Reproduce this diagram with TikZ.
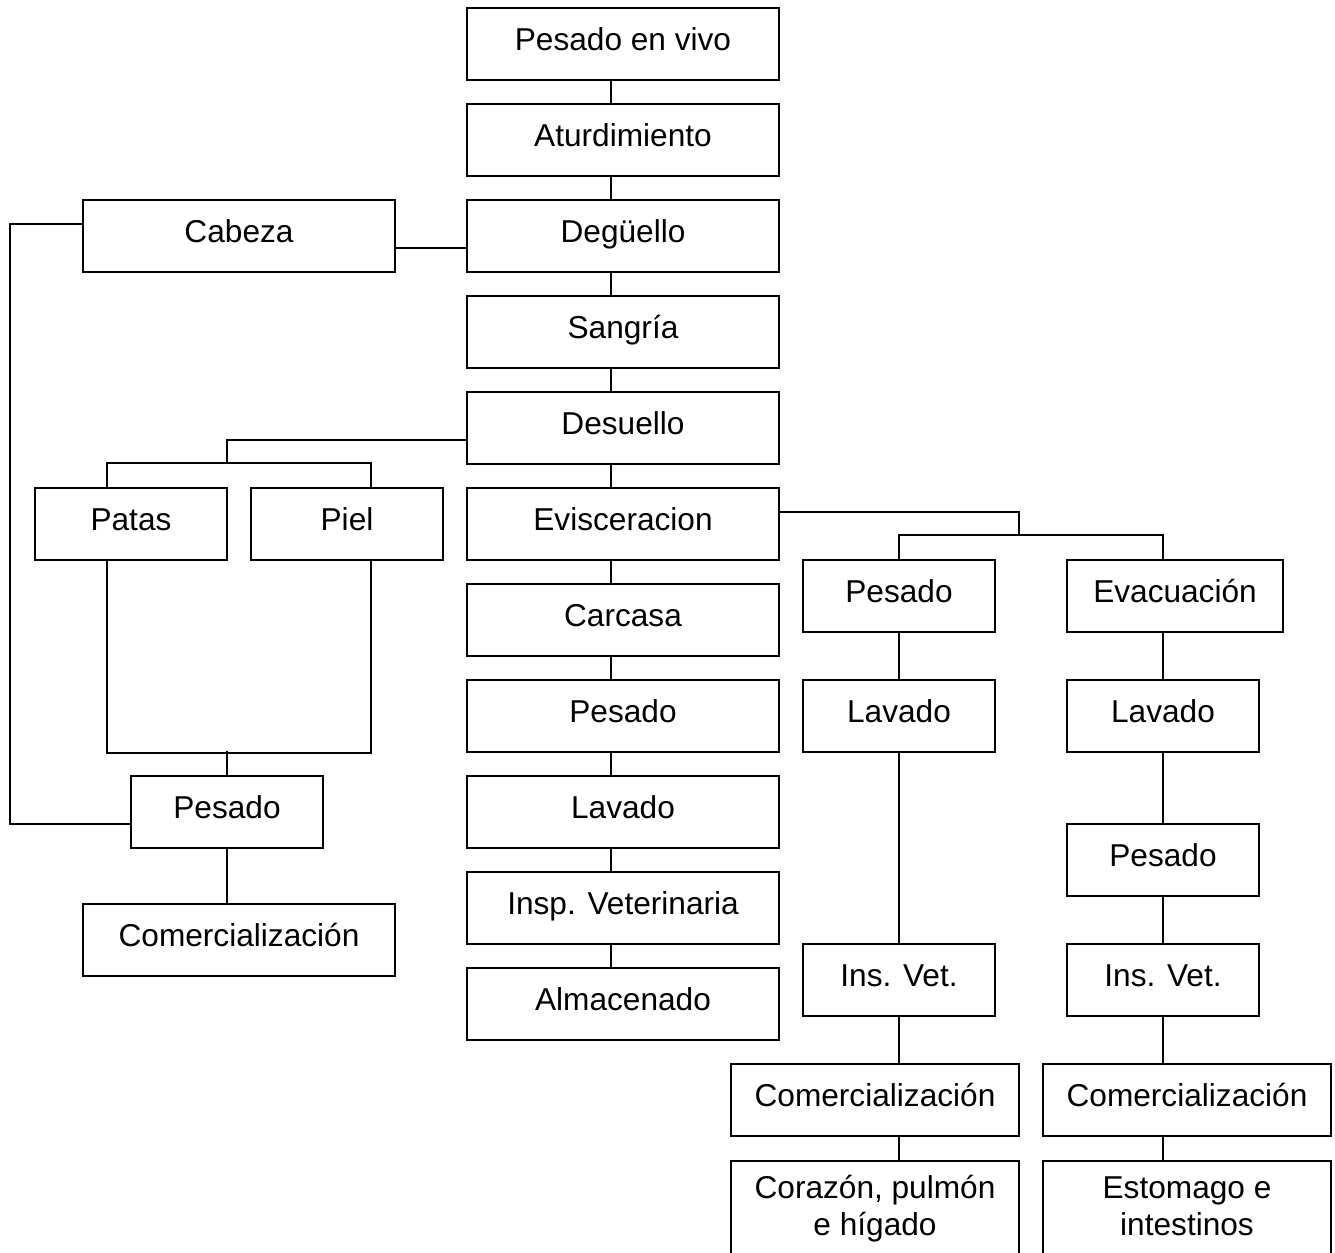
\documentclass[tikz,border=0pt]{standalone}
\usepackage{fontspec}
\setmainfont{Liberation Sans}

\begin{document}
\begin{tikzpicture}[x=0.02cm, y=-0.02cm,
    box/.style={draw, line width=1.1pt, inner sep=0pt, minimum height=1.44cm,
      text height=0.72em, text depth=0.03em, font=\fontsize{18}{21}\selectfont},
    wide/.style={box, minimum width=6.24cm},
    narrow/.style={box, minimum width=3.84cm},
    medium/.style={box, minimum width=5.76cm},
    twoline/.style={draw, line width=1.1pt, inner sep=0pt, minimum width=5.76cm,
      minimum height=2cm, align=center, anchor=north, text height=2.92em,
      text depth=0.1em, font=\fontsize{18}{21}\selectfont},
    link/.style={line width=1.1pt}]
  \useasboundingbox (0,0) rectangle (1335,1253);

  % main line
  \node[wide] (pesadovivo) at (623,44) {Pesado en vivo};
  \node[wide] (aturdimiento) at (623,140) {Aturdimiento};
  \node[wide] (deguello) at (623,236) {Degüello};
  \node[wide] (sangria) at (623,332) {Sangría};
  \node[wide] (desuello) at (623,428) {Desuello};
  \node[wide] (evisceracion) at (623,524) {Evisceracion};
  \node[wide] (carcasa) at (623,620) {Carcasa};
  \node[wide] (pesadocarcasa) at (623,716) {Pesado};
  \node[wide] (lavadocarcasa) at (623,812) {Lavado};
  \node[wide] (inspeccion) at (623,908) {Insp. Veterinaria};
  \node[wide] (almacenado) at (623,1004) {Almacenado};
  \coordinate (spine) at (611,0);

  \draw[link] (pesadovivo.south -| spine) -- (aturdimiento.north -| spine);
  \draw[link] (aturdimiento.south -| spine) -- (deguello.north -| spine);
  \draw[link] (deguello.south -| spine) -- (sangria.north -| spine);
  \draw[link] (sangria.south -| spine) -- (desuello.north -| spine);
  \draw[link] (desuello.south -| spine) -- (evisceracion.north -| spine);
  \draw[link] (evisceracion.south -| spine) -- (carcasa.north -| spine);
  \draw[link] (carcasa.south -| spine) -- (pesadocarcasa.north -| spine);
  \draw[link] (pesadocarcasa.south -| spine) -- (lavadocarcasa.north -| spine);
  \draw[link] (lavadocarcasa.south -| spine) -- (inspeccion.north -| spine);
  \draw[link] (inspeccion.south -| spine) -- (almacenado.north -| spine);

  % left side
  \node[wide] (cabeza) at (239,236) {Cabeza};
  \node[narrow] (patas) at (131,524) {Patas};
  \node[narrow] (piel) at (347,524) {Piel};
  \node[narrow] (pesadoizq) at (227,812) {Pesado};
  \node[wide] (comizq) at (239,940) {Comercialización};
  \coordinate (dsplit) at (227,464);

  \draw[link] ([yshift=-0.24cm]cabeza.east) -- ([yshift=-0.24cm]deguello.west);
  \draw[link] ([yshift=0.24cm]cabeza.west) -- ++(-72,0) |- ([yshift=-0.24cm]pesadoizq.west);
  \draw[link] ([yshift=-0.24cm]desuello.west) -| (dsplit);
  \draw[link] ([xshift=-0.48cm]patas.north) -- ++(0,-24) -| ([xshift=0.48cm]piel.north);
  \draw[link] ([xshift=-0.48cm]patas.south) -- ++(0,192) -| ([xshift=0.48cm]piel.south);
  \draw[link] (pesadoizq.north) -- ++(0,-24);
  \draw[link] (pesadoizq.south) -- (pesadoizq.south |- comizq.north);

  % right side
  \node[narrow] (pesadomed) at (899,596) {Pesado};
  \node[box, minimum width=4.32cm] (evacuacion) at (1175,596) {Evacuación};
  \node[narrow] (lavadomed) at (899,716) {Lavado};
  \node[narrow] (lavadoder) at (1163,716) {Lavado};
  \node[narrow] (pesadoder) at (1163,860) {Pesado};
  \node[narrow] (insvetmed) at (899,980) {Ins. Vet.};
  \node[narrow] (insvetder) at (1163,980) {Ins. Vet.};
  \node[medium] (commed) at (875,1100) {Comercialización};
  \node[medium] (comder) at (1187,1100) {Comercialización};
  \node[twoline] (corazon) at (875,1160) {Corazón, pulmón\\e hígado};
  \node[twoline] (estomago) at (1187,1160) {Estomago e\\intestinos};
  \coordinate (esplit) at (1019,536);

  \draw[link] ([yshift=0.24cm]evisceracion.east) -| (esplit);
  \draw[link] (pesadomed.north) -- ++(0,-24) -| ([xshift=-0.24cm]evacuacion.north);
  \draw[link] (pesadomed.south) -- (lavadomed.north);
  \draw[link] (lavadomed.south) -- (insvetmed.north);
  \draw[link] (insvetmed.south) -- (insvetmed.south |- commed.north);
  \draw[link] (commed.south -| insvetmed.south) -- (corazon.north -| insvetmed.south);
  \draw[link] (lavadoder.north |- evacuacion.south) -- (lavadoder.north);
  \draw[link] (lavadoder.south) -- (pesadoder.north);
  \draw[link] (pesadoder.south) -- (insvetder.north);
  \draw[link] (insvetder.south) -- (insvetder.south |- comder.north);
  \draw[link] (comder.south -| insvetder.south) -- (estomago.north -| insvetder.south);
\end{tikzpicture}
\end{document}
